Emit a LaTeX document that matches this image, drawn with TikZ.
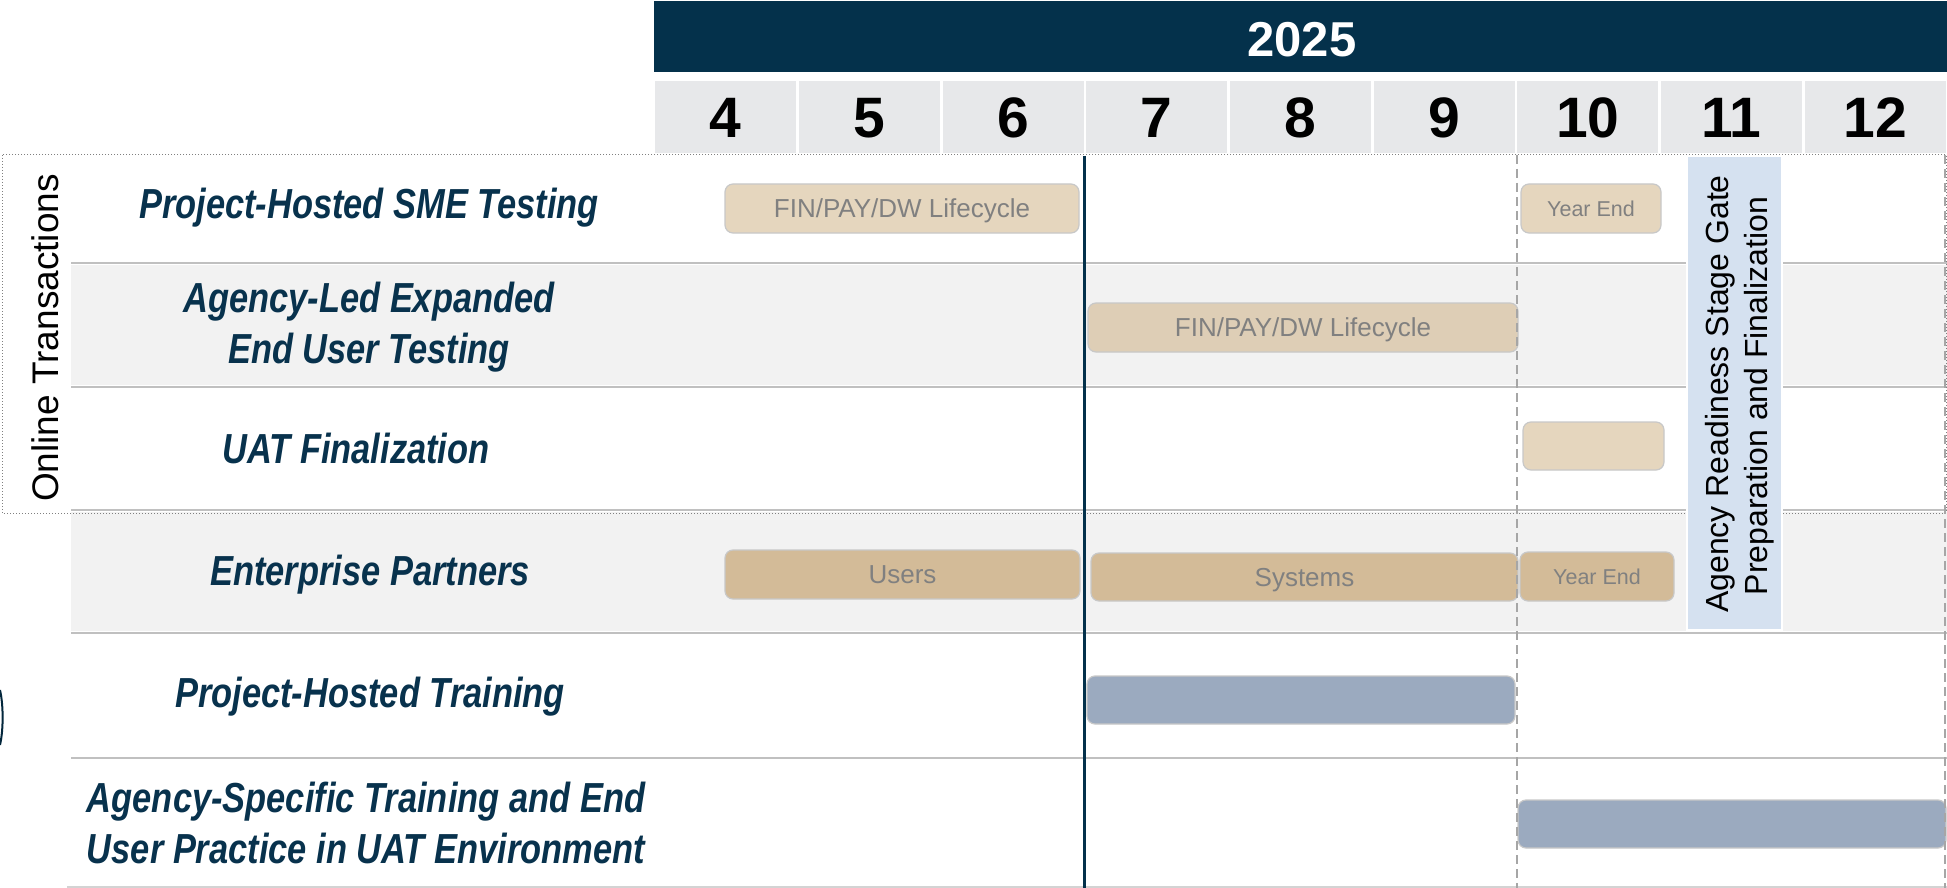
\documentclass[tikz,border=0pt]{standalone}
\usepackage{fontspec}
\setmainfont{Liberation Sans}
\newfontfamily\narrowfont[FakeStretch=0.82]{Liberation Sans}
\definecolor{navy}{RGB}{4,49,75}
\definecolor{navytext}{RGB}{8,50,77}
\definecolor{monthbg}{RGB}{231,232,234}
\definecolor{rowgray}{RGB}{242,242,242}
\definecolor{sepgray}{RGB}{192,192,192}
\definecolor{tanlight}{RGB}{229,214,190}
\definecolor{tanmid}{RGB}{222,206,182}
\definecolor{tandark}{RGB}{211,187,152}
\definecolor{bluebar}{RGB}{155,170,191}
\definecolor{gatebox}{RGB}{213,225,240}
\definecolor{bartext}{RGB}{128,128,128}
\definecolor{dashgray}{RGB}{166,166,166}
\definecolor{barborder}{RGB}{200,200,200}
\tikzset{
  lbl/.style={font=\narrowfont\bfseries\itshape\fontsize{42}{50}\selectfont, text=navytext, anchor=base, inner sep=0pt},
  monthcell/.style={fill=monthbg, minimum width=140.7pt, minimum height=72pt, inner sep=0pt,
    font=\bfseries\fontsize{57}{60}\selectfont, text height=41pt, text depth=0pt},
  bar/.style={rounded corners=8pt, draw=barborder, line width=1.2pt, inner sep=0pt, text=bartext,
    font=\fontsize{26}{30}\selectfont, text height=18.6pt, text depth=0pt},
  smallbar/.style={bar, font=\fontsize{21.5}{26}\selectfont, text height=15.4pt},
  sep/.style={draw=sepgray, line width=2.5pt},
  vdash/.style={draw=dashgray, line width=2pt, dash pattern=on 9pt off 5pt},
  gatetext/.style={font=\fontsize{32}{38}\selectfont, rotate=90, anchor=base, inner sep=0pt}
}
\begin{document}
\begin{tikzpicture}[x=1pt,y=-1pt]
\useasboundingbox (0,0) rectangle (1947,888);
\fill[white] (0,0) rectangle (1947,888);

% header
\node[fill=navy, minimum width=1293pt, minimum height=71pt, anchor=north west, inner sep=0pt] (hdr) at (654,1) {};
\node[font=\bfseries\fontsize{49}{55}\selectfont, text=white, anchor=base, inner sep=0pt] (year) at (1302,57) {2025};

% month cells
\foreach \m [count=\i from 0] in {4,...,12}{
  \pgfmathsetmacro\cx{654+143.667*\i+71.83}
  \node[monthcell] (mc\m) at (\cx,117) {\m};
}

% row fills
\fill[rowgray] (71,265) rectangle (1947,385);
\fill[rowgray] (71,512) rectangle (1947,631);

% separators
\foreach \yy in {263,387,510,633,758}{
  \draw[sep] (71,\yy) -- (1947,\yy);
}
\draw[draw=sepgray!70, line width=1.5pt] (67,887) -- (1947,887);

% dotted outline of online transactions group
\draw[gray, dotted, line width=1pt] (2,155) rectangle (1946,513);

% bars
\node[bar, fill=tanlight, minimum width=354pt, minimum height=49pt] (r1fin) at (902,208.5) {FIN/PAY/DW Lifecycle};
\node[smallbar, fill=tanlight, minimum width=140pt, minimum height=49pt] (r1ye) at (1591,208.5) {Year End};
\node[bar, fill=tanmid, minimum width=430pt, minimum height=49pt] (r2fin) at (1303,327.5) {FIN/PAY/DW Lifecycle};
\node[bar, fill=tanlight, minimum width=141pt, minimum height=48pt] (r3bar) at (1593.5,446) {};
\node[bar, fill=tandark, minimum width=355pt, minimum height=49pt] (r4users) at (902.5,574.5) {Users};
\node[bar, fill=tandark, minimum width=427pt, minimum height=48pt] (r4sys) at (1304.5,577) {Systems};
\node[smallbar, fill=tandark, minimum width=154pt, minimum height=49pt] (r4ye) at (1597,576.5) {Year End};
\node[bar, fill=bluebar, minimum width=428pt, minimum height=48pt] (r5bar) at (1301,700) {};
\node[bar, fill=bluebar, minimum width=428pt, minimum height=48pt] (r6bar) at (1732,824) {};

% vertical lines
\coordinate (navyTop) at (1084,156);
\coordinate (navyBot) at (1084,888);
\draw[navy, line width=3pt] (navyTop) -- (navyBot);
\coordinate (d1Top) at (1516.5,155);
\coordinate (d1Bot) at (1516.5,888);
\draw[vdash] (d1Top) -- (d1Bot);
\coordinate (d2Top) at (1945,155);
\coordinate (d2Bot) at (1945,888);
\draw[vdash] (d2Top) -- (d2Bot);

% stage gate box
\node[fill=gatebox, draw=white, line width=2pt, minimum width=95pt, minimum height=474pt, inner sep=0pt] (gate) at (1734.5,393) {};
\node[gatetext] (gate1) at (1728,394) {Agency Readiness Stage Gate};
\node[gatetext] (gate2) at (1767,396) {Preparation and Finalization};

% group label
\node[font=\fontsize{37}{44}\selectfont, rotate=90, anchor=base, inner sep=0pt] (online) at (58,338) {Online Transactions};

% row labels
\node[lbl] (l1) at (369,218) {Project-Hosted SME Testing};
\node[lbl] (l2a) at (369,312) {Agency-Led Expanded};
\node[lbl] (l2b) at (369,363) {End User Testing};
\node[lbl] (l3) at (356,463) {UAT Finalization};
\node[lbl] (l4) at (370,585) {Enterprise Partners};
\node[lbl] (l5) at (370,707) {Project-Hosted Training};
\node[lbl] (l6a) at (366,812) {Agency-Specific Training and End};
\node[lbl] (l6b) at (366,863) {User Practice in UAT Environment};

% arc fragment at left edge
\draw[navy!80!black, line width=2pt] (0,690) .. controls (3.5,705) and (3.5,730) .. (0,745);
\end{tikzpicture}
\end{document}
